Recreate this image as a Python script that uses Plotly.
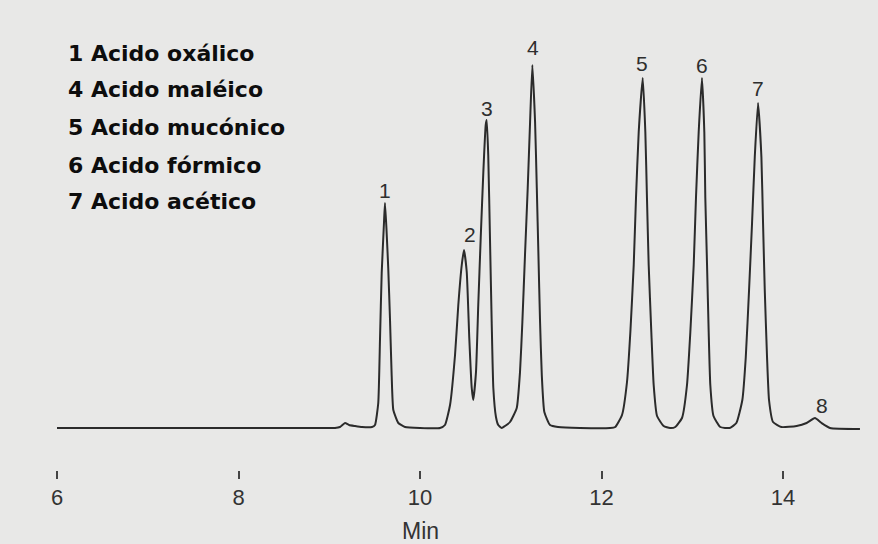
import plotly.graph_objects as go

# Chromatogram trace: retention time (min) and detector response (arbitrary units)
time_min = [
    6.000, 7.025, 7.906, 8.678, 9.063, 9.118, 9.174, 9.218, 9.284, 9.361, 9.471,
    9.504, 9.540, 9.559, 9.578, 9.603, 9.614, 9.630, 9.650, 9.669, 9.688, 9.706, 9.761, 9.835,
    10.000, 10.220,
    10.275, 10.331, 10.386, 10.422, 10.460, 10.485, 10.515, 10.543, 10.570, 10.587,
    10.617, 10.642, 10.669, 10.698, 10.724, 10.735, 10.752, 10.771, 10.790, 10.808, 10.837, 10.862, 10.900,
    10.937, 10.992, 11.066, 11.102, 11.128, 11.157, 11.187, 11.213, 11.238,
    11.268, 11.287, 11.305, 11.323, 11.342, 11.370, 11.433, 11.521,
    11.763, 12.094,
    12.152, 12.226, 12.281, 12.318, 12.355, 12.380, 12.410, 12.454,
    12.483, 12.501, 12.520, 12.549, 12.575, 12.612, 12.685, 12.755,
    12.813, 12.887, 12.942, 12.979, 13.016, 13.041, 13.071, 13.107,
    13.133, 13.144, 13.163, 13.181, 13.199, 13.234, 13.309,
    13.413, 13.486, 13.552, 13.590, 13.626, 13.659, 13.689, 13.725,
    13.762, 13.780, 13.799, 13.824, 13.846, 13.890, 13.981,
    14.150, 14.260, 14.352, 14.425, 14.518, 14.848,
]
response = [
    0, 0, 0, 0, 0, 1, 5, 3, 2, 1, 1,
    3, 25, 88, 155, 205, 225, 200, 160, 110, 52, 18, 5, 1,
    0, 0,
    3, 23, 73, 123, 163, 178, 156, 90, 40, 28,
    56, 123, 190, 256, 303, 308, 273, 190, 106, 40, 11, 3, 0,
    2, 6, 20, 56, 106, 173, 240, 306, 363,
    306, 240, 173, 106, 53, 16, 3, 1,
    0, 0,
    1, 13, 46, 96, 163, 230, 296, 350,
    296, 230, 163, 96, 43, 12, 2, 0,
    1, 10, 43, 96, 163, 230, 296, 350,
    296, 230, 163, 96, 43, 12, 1,
    0, 5, 28, 71, 138, 205, 271, 325,
    271, 205, 138, 71, 28, 6, 1,
    2, 5, 10, 5, 0, -1,
]

# Peak numbers and where their labels sit
peak_ids = ["1", "2", "3", "4", "5", "6", "7", "8"]
peak_label_time = [9.614, 10.551, 10.735, 11.245, 12.443, 13.104, 13.728, 14.426]
peak_label_resp = [238, 194, 320, 381, 365, 363, 340, 23]

# Identified compounds
legend_lines = [
    "1 Acido oxálico",
    "4 Acido maléico",
    "5 Acido mucónico",
    "6 Acido fórmico",
    "7 Acido acético",
]
legend_y_px = [53, 90, 128, 165, 201]

tick_vals = [6, 8, 10, 12, 14]

W, H = 878, 544
plot_bottom = 470  # pixel row of the plot area's bottom edge

fig = go.Figure()
fig.add_trace(go.Scatter(
    x=time_min, y=response, mode="lines",
    line=dict(color="#2b2b2b", width=2, shape="spline", smoothing=0.45),
    hoverinfo="skip", showlegend=False,
))

annotations = []
for pid, tx, ry in zip(peak_ids, peak_label_time, peak_label_resp):
    annotations.append(dict(
        x=tx, y=ry, xref="x", yref="y", text=pid, showarrow=False,
        font=dict(family="Liberation Sans, Arial, sans-serif", size=21, color="#2e2e2e"),
    ))

for line, ypx in zip(legend_lines, legend_y_px):
    annotations.append(dict(
        x=66 / W, y=1 - ypx / plot_bottom, xref="paper", yref="paper",
        xanchor="left", yanchor="middle", text="<b>" + line + "</b>", showarrow=False,
        font=dict(family="Comic Sans MS, DejaVu Sans, sans-serif", size=22, color="#0d0d0d"),
    ))

annotations.append(dict(
    x=10, y=-(531 - plot_bottom) / plot_bottom, xref="x", yref="paper",
    text="Min", showarrow=False, yanchor="middle",
    font=dict(family="Liberation Sans, Arial, sans-serif", size=23, color="#333333"),
))

px_per_min = 90.75
x0 = 6 - 57 / px_per_min
x1 = 6 + (W - 57) / px_per_min

fig.update_layout(
    width=W, height=H,
    margin=dict(l=0, r=0, t=0, b=H - plot_bottom),
    paper_bgcolor="#e8e8e7", plot_bgcolor="#e8e8e7",
    annotations=annotations,
    xaxis=dict(
        range=[x0, x1], tickvals=tick_vals, ticktext=[str(v) for v in tick_vals],
        ticks="outside", ticklen=8, tickwidth=1.5, tickcolor="#444444",
        showline=False, showgrid=False, zeroline=False,
        tickfont=dict(family="Liberation Sans, Arial, sans-serif", size=22, color="#333333"),
    ),
    yaxis=dict(range=[-42, 428], visible=False, showgrid=False, zeroline=False),
)

fig.write_html("out.html")
